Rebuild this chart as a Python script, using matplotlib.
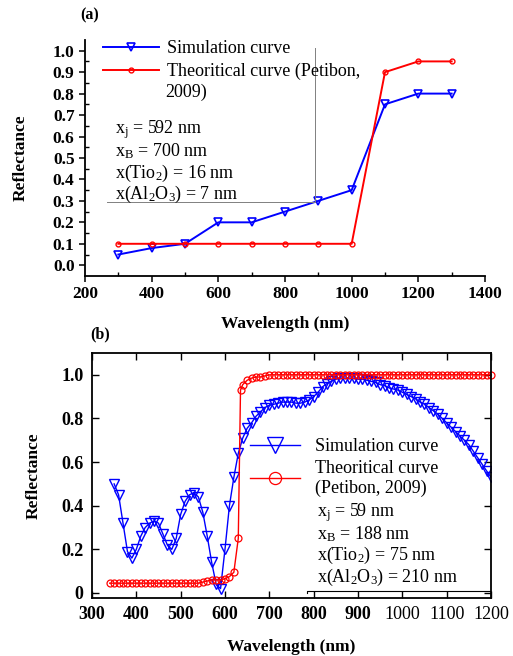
"""Reflectance vs wavelength: (a) coarse simulation, (b) fine simulation,
each against the theoretical curve (Petibon, 2009)."""

import matplotlib

matplotlib.use("Agg")
import matplotlib.pyplot as plt  # noqa: E402

plt.rcParams["font.family"] = ["Liberation Serif", "DejaVu Serif"]
plt.rcParams["mathtext.fontset"] = "custom"
plt.rcParams["mathtext.rm"] = "Liberation Serif"
plt.rcParams["mathtext.it"] = "Liberation Serif:italic"
plt.rcParams["mathtext.bf"] = "Liberation Serif:bold"

BLUE = "#0000ff"
RED = "#ff0000"

# ---------------------------------------------------------------- panel (a)
a_wl = [300, 400, 500, 600, 700, 800, 900, 1000, 1100, 1200, 1300]
a_sim = [0.05, 0.08, 0.10, 0.20, 0.20, 0.25, 0.30, 0.35, 0.75, 0.80, 0.80]
a_theo = [0.10, 0.10, 0.10, 0.10, 0.10, 0.10, 0.10, 0.10, 0.90, 0.95, 0.95]
a_notes = [r"x$_{\mathrm{j}}$ = 592 nm", r"x$_{\mathrm{B}}$ = 700 nm",
           r"x(Tio$_{2}$) = 16 nm", r"x(Al$_{2}$O$_{3}$) = 7 nm"]

# ---------------------------------------------------------------- panel (b)
b_sim_wl = [350, 360, 370, 380, 390, 400, 410, 420, 430, 440,
            450, 460, 470, 480, 490, 500, 510, 520, 530, 540,
            550, 560, 570, 580, 590, 600, 610, 620, 630, 640,
            650, 660, 670, 680, 690, 700, 710, 720, 730, 740,
            750, 760, 770, 780, 790, 800, 810, 820, 830, 840,
            850, 860, 870, 880, 890, 900, 910, 920, 930, 940,
            950, 960, 970, 980, 990, 1000, 1010, 1020, 1030, 1040,
            1050, 1060, 1070, 1080, 1090, 1100, 1110, 1120, 1130, 1140,
            1150, 1160, 1170, 1180, 1190, 1200]
b_sim = [0.50, 0.45, 0.32, 0.19, 0.16, 0.20, 0.26, 0.30, 0.32, 0.33,
         0.32, 0.27, 0.22, 0.20, 0.25, 0.36, 0.42, 0.45, 0.46, 0.44,
         0.37, 0.26, 0.14, 0.04, 0.02, 0.20, 0.40, 0.53, 0.64, 0.71,
         0.755, 0.78, 0.81, 0.83, 0.85, 0.86, 0.865, 0.87, 0.875, 0.875,
         0.875, 0.87, 0.87, 0.875, 0.885, 0.90, 0.92, 0.945, 0.96, 0.97,
         0.98, 0.985, 0.985, 0.985, 0.985, 0.98, 0.98, 0.975, 0.97, 0.965,
         0.955, 0.95, 0.94, 0.935, 0.93, 0.92, 0.91, 0.90, 0.89, 0.875,
         0.865, 0.85, 0.835, 0.82, 0.80, 0.78, 0.76, 0.74, 0.72, 0.70,
         0.68, 0.65, 0.62, 0.59, 0.56, 0.53]

b_theo_wl = [340, 350, 360, 370, 380, 390, 400, 410, 420, 430,
             440, 450, 460, 470, 480, 490, 500, 510, 520, 530,
             540, 550, 560, 570, 580, 590, 600, 610, 620, 630,
             635, 640, 650, 660, 670, 680, 690, 700, 710, 720,
             730, 740, 750, 760, 770, 780, 790, 800, 810, 820,
             830, 840, 850, 860, 870, 880, 890, 900, 910, 920,
             930, 940, 950, 960, 970, 980, 990, 1000, 1010, 1020,
             1030, 1040, 1050, 1060, 1070, 1080, 1090, 1100, 1110, 1120,
             1130, 1140, 1150, 1160, 1170, 1180, 1190, 1200]
b_theo = [0.045, 0.045, 0.045, 0.045, 0.045, 0.045, 0.045, 0.045, 0.045, 0.045,
          0.045, 0.045, 0.045, 0.045, 0.045, 0.045, 0.045, 0.045, 0.045, 0.045,
          0.045, 0.05, 0.055, 0.06, 0.06, 0.06, 0.065, 0.075, 0.095, 0.25,
          0.93, 0.955, 0.975, 0.985, 0.99, 0.99, 0.995, 1.0, 1.0, 1.0,
          1.0, 1.0, 1.0, 1.0, 1.0, 1.0, 1.0, 1.0, 1.0, 1.0,
          1.0, 1.0, 1.0, 1.0, 1.0, 1.0, 1.0, 1.0, 1.0, 1.0,
          1.0, 1.0, 1.0, 1.0, 1.0, 1.0, 1.0, 1.0, 1.0, 1.0,
          1.0, 1.0, 1.0, 1.0, 1.0, 1.0, 1.0, 1.0, 1.0, 1.0,
          1.0, 1.0, 1.0, 1.0, 1.0, 1.0, 1.0, 1.0]
b_notes = [r"x$_{\mathrm{j}}$ = 59 nm", r"x$_{\mathrm{B}}$ = 188 nm",
           r"x(Tio$_{2}$) = 75 nm", r"x(Al$_{2}$O$_{3}$) = 210 nm"]


def main() -> None:
    fig = plt.figure(figsize=(5.13, 6.56), dpi=100)

    # ------------------------------------------------------------------ (a)
    ax = fig.add_axes([0.1657, 0.5793, 0.7797, 0.3598])
    ax.plot(a_wl, a_sim, color=BLUE, lw=1.4, marker="v", ms=6,
            mfc="none", mec=BLUE, mew=1.2, label="Simulation curve")
    ax.plot(a_wl, a_theo, color=RED, lw=1.4, marker="o", ms=3.5,
            mfc="none", mec=RED, mew=1.0, label="Theoritical curve (Petibon,")
    ax.set_xlim(200, 1400)
    ax.set_ylim(-0.05, 1.05)
    ax.set_xticks(range(200, 1401, 200))
    ax.set_xticks(range(300, 1400, 200), minor=True)
    ax.set_yticks([i / 10 for i in range(11)])
    ax.set_yticklabels([f"{i / 10:.1f}" for i in range(11)])
    ax.set_yticks([i / 10 + 0.05 for i in range(10)], minor=True)
    for side in ("top", "right"):
        ax.spines[side].set_visible(False)
    for side in ("left", "bottom"):
        ax.spines[side].set_linewidth(1.3)
    ax.tick_params(which="major", direction="out", length=4, width=1.1,
                   labelsize=12.5)
    ax.tick_params(which="minor", direction="in", length=3, width=1.0)
    for lab in ax.get_xticklabels() + ax.get_yticklabels():
        lab.set_fontweight("bold")
    ax.set_xlabel("Wavelength (nm)", fontsize=12.5, fontweight="bold",
                  labelpad=10)
    ax.set_ylabel("Reflectance", fontsize=12.5, fontweight="bold",
                  labelpad=17)

    # thin box remnant round the annotation
    ax.plot([266, 890, 890], [0.293, 0.293, 1.014], color="#808080", lw=0.7)

    leg = ax.legend(loc="upper left", bbox_to_anchor=(0.045, 1.0),
                    frameon=False, fontsize=13, handlelength=3.1,
                    handletextpad=0.45, labelspacing=0.32, borderpad=0,
                    borderaxespad=0, numpoints=1)
    leg.set_zorder(5)
    ax.text(0.2, 0.776, "2009)", transform=ax.transAxes, fontsize=13,
            va="center", ha="left")
    for i, note in enumerate(a_notes):
        ax.text(0.075, 0.62 - i * 0.092, note, transform=ax.transAxes,
                fontsize=13, va="center", ha="left")
    fig.text(0.175, 0.977, "(a)", fontsize=11.5, fontweight="bold",
             va="center", ha="center")

    # ------------------------------------------------------------------ (b)
    bx = fig.add_axes([0.1793, 0.0884, 0.7778, 0.3735])
    bx.plot(b_sim_wl, b_sim, color=BLUE, lw=1.0, marker="v", ms=6.5,
            mfc="none", mec=BLUE, mew=1.0, label="Simulation curve")
    bx.plot(b_theo_wl, b_theo, color=RED, lw=1.0, marker="o", ms=5,
            mfc="none", mec=RED, mew=0.9,
            label="Theoritical curve\n(Petibon, 2009)", clip_on=False)
    bx.set_xlim(300, 1200)
    bx.set_ylim(-0.023, 1.10)
    bx.set_xticks(range(300, 1201, 100))
    bx.set_yticks([0, 0.2, 0.4, 0.6, 0.8, 1.0])
    bx.set_yticklabels(["0", "0.2", "0.4", "0.6", "0.8", "1.0"])
    for side in bx.spines.values():
        side.set_linewidth(1.3)
    bx.tick_params(direction="in", length=5, width=1.0, top=True,
                   right=True, labelsize=13, pad=6)
    for lab in bx.get_yticklabels():
        lab.set_fontweight("bold")
    for lab, val in zip(bx.get_xticklabels(), bx.get_xticks()):
        lab.set_fontweight("normal" if val >= 1000 else "bold")
    bx.set_xlabel("Wavelength (nm)", fontsize=12.5, fontweight="bold",
                  labelpad=11)
    bx.set_ylabel("Reflectance", fontsize=12.5, fontweight="bold",
                  labelpad=14)

    bx.plot([785, 785, 1200], [0.0, 0.01, 0.01], color="black", lw=0.8)

    bx.legend(loc="upper left", bbox_to_anchor=(0.395, 0.652),
              frameon=False, fontsize=13, handlelength=2.8,
              handletextpad=0.8, labelspacing=0.25, borderpad=0,
              borderaxespad=0, numpoints=1, markerscale=1.75)
    for i, note in enumerate(b_notes):
        bx.text(0.564, 0.347 - i * 0.087, note, transform=bx.transAxes,
                fontsize=13, va="center", ha="left")
    fig.text(0.195, 0.49, "(b)", fontsize=11.5, fontweight="bold",
             va="center", ha="center")

    fig.savefig("out.png", dpi=100)
    plt.close(fig)


if __name__ == "__main__":
    main()
